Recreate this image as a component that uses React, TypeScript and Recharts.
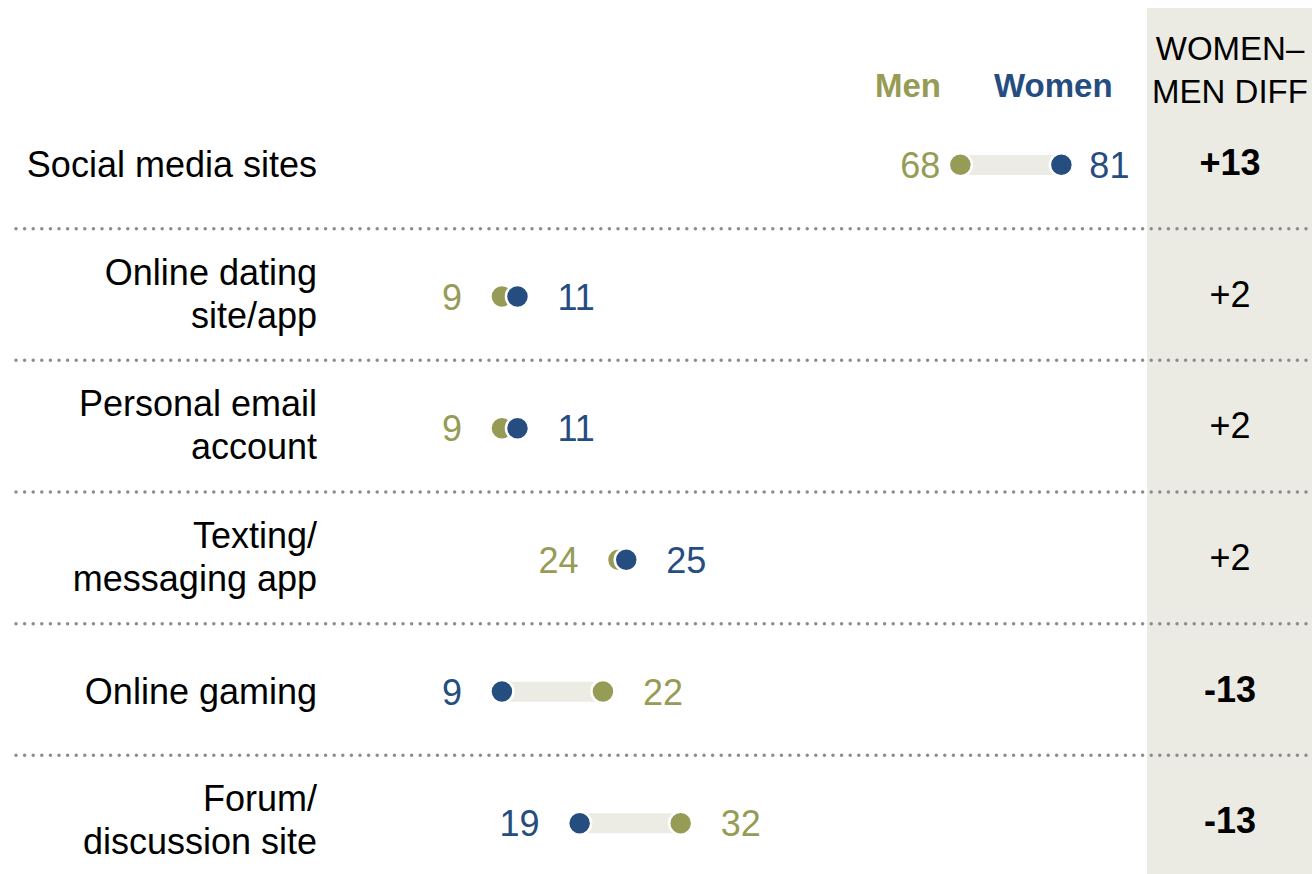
import { ComposedChart, Bar, Line, XAxis, YAxis } from "recharts";

const categories = [
  "Social media sites",
  "Online dating\nsite/app",
  "Personal email\naccount",
  "Texting/\nmessaging app",
  "Online gaming",
  "Forum/\ndiscussion site",
];
const men = [68, 9, 9, 24, 22, 32];
const women = [81, 11, 11, 25, 9, 19];
const diffs = ["+13", "+2", "+2", "+2", "-13", "-13"];
const boldDiffs = ["+13", "-13"];

const MEN_COLOR = "#969b55";
const WOMEN_COLOR = "#264d80";
const BAR_COLOR = "#ecebe4";
const COLUMN_BG = "#ebeae3";
const FONT = "'Liberation Sans', Arial, sans-serif";

const data = categories.map((cat, i) => ({
  cat,
  men: men[i],
  women: women[i],
  range: [Math.min(men[i], women[i]), Math.max(men[i], women[i])],
  diff: diffs[i],
}));

const makeDot = (key: "men" | "women", color: string) => (props: any) => {
  const { cx, cy, payload, index } = props;
  if (cx == null || cy == null) return null;
  const other = key === "men" ? payload.women : payload.men;
  const isLow = payload[key] < other;
  // labels sit a bit tighter when the row runs up against the diff column
  const crowded = Math.max(payload.men, payload.women) > 75;
  const gap = crowded ? (isLow ? 20 : 28) : 40;
  return (
    <g key={`${key}-${index}`}>
      <circle cx={cx} cy={cy} r={11.5} fill={color} stroke="#fff" strokeWidth={2.5} />
      <text
        x={isLow ? cx - gap : cx + gap}
        y={cy + 13}
        textAnchor={isLow ? "end" : "start"}
        fill={color}
        fontSize={36}
        fontFamily={FONT}
      >
        {payload[key]}
      </text>
    </g>
  );
};

const CategoryTick = (props: any) => {
  const { y, payload, index } = props;
  const lines = String(payload.value).split("\n");
  const diff = diffs[index];
  const band = 131.67;
  return (
    <g>
      <text textAnchor="end" fontSize={36} fontFamily={FONT} fill="#000">
        {lines.length === 1 ? (
          <tspan x={317} y={y + 12}>{lines[0]}</tspan>
        ) : (
          lines.map((l, i) => (
            <tspan key={i} x={317} y={y - 12 + i * 43}>{l}</tspan>
          ))
        )}
      </text>
      <text
        x={1230}
        y={y + 10}
        textAnchor="middle"
        fontSize={36}
        fontWeight={boldDiffs.includes(diff) ? 700 : 400}
        fontFamily={FONT}
        fill="#000"
      >
        {diff}
      </text>
      {index < categories.length - 1 && (
        <line
          x1={16}
          x2={1307}
          y1={y + band / 2 - 2}
          y2={y + band / 2 - 2}
          stroke="#8c8c8c"
          strokeWidth={3.5}
          strokeLinecap="round"
          strokeDasharray="0 8.6"
        />
      )}
    </g>
  );
};

export default function App() {
  return (
    <div style={{ position: "absolute", left: 0, top: 0, width: 1315, height: 874, overflow: "hidden", background: "#fff" }}>
      <svg width={1315} height={874} style={{ position: "absolute", left: 0, top: 0 }}>
        <rect x={1147} y={8} width={165} height={866} fill={COLUMN_BG} />
        <text x={1230} textAnchor="middle" fontSize={33} fontFamily={FONT} fill="#000">
          <tspan x={1230} y={60}>WOMEN–</tspan>
          <tspan x={1230} y={103}>MEN DIFF</tspan>
        </text>
        <text x={875} y={97} fontSize={33} fontWeight={700} fontFamily={FONT} fill={MEN_COLOR}>Men</text>
        <text x={994} y={97} fontSize={33} fontWeight={700} fontFamily={FONT} fill={WOMEN_COLOR}>Women</text>
      </svg>
      <div style={{ position: "absolute", left: 0, top: 0 }}>
        <ComposedChart
          width={1315}
          height={889}
          data={data}
          layout="vertical"
          margin={{ top: 99, right: 106, bottom: 0, left: 0 }}
        >
          <XAxis type="number" domain={[0, 100]} hide />
          <YAxis
            type="category"
            dataKey="cat"
            width={432}
            axisLine={false}
            tickLine={false}
            interval={0}
            tick={<CategoryTick />}
          />
          <Bar dataKey="range" barSize={20} fill={BAR_COLOR} isAnimationActive={false} />
          <Line
            dataKey="men"
            stroke="none"
            dot={makeDot("men", MEN_COLOR)}
            activeDot={false}
            isAnimationActive={false}
          />
          <Line
            dataKey="women"
            stroke="none"
            dot={makeDot("women", WOMEN_COLOR)}
            activeDot={false}
            isAnimationActive={false}
          />
        </ComposedChart>
      </div>
    </div>
  );
}
